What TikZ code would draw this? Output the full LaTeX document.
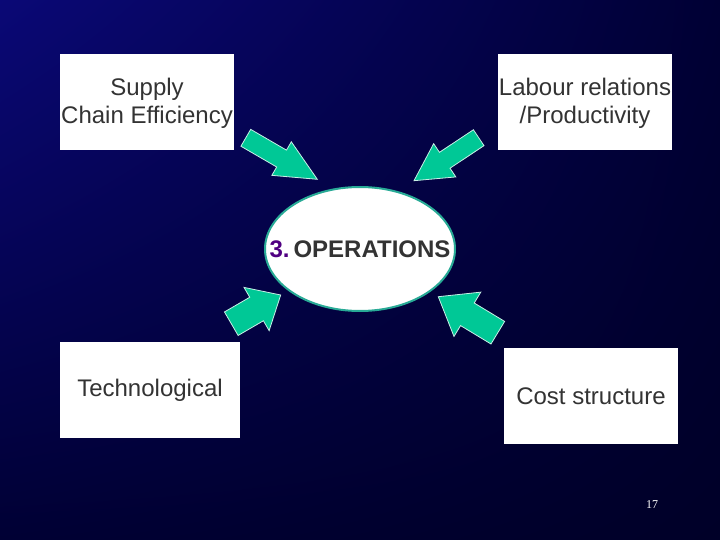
\documentclass[tikz,border=0pt]{standalone}
\usepackage{fontspec}
\setmainfont{Liberation Sans}
\newfontfamily\numfont{Liberation Serif}
\usetikzlibrary{calc,shadings,shapes.geometric}
\definecolor{bgtl}{RGB}{10,8,118}
\definecolor{bgtr}{RGB}{0,0,52}
\definecolor{bgbl}{RGB}{0,0,52}
\definecolor{bgbr}{RGB}{0,0,40}
\definecolor{arrowfill}{RGB}{0,200,150}
\definecolor{arrowline}{RGB}{200,240,230}
\definecolor{ellline}{RGB}{40,170,150}
\definecolor{boxtext}{RGB}{51,51,51}
\definecolor{numpurple}{RGB}{80,0,130}
\tikzset{
  infobox/.style={fill=white, draw=none, inner sep=0pt, align=center,
    text=boxtext, font=\fontsize{24}{28}\selectfont},
  centre/.style={ellipse, fill=white, draw=ellline, line width=2pt,
    inner sep=0pt},
  blockarrow/.style={fill=arrowfill, draw=arrowline, line width=0.8pt, line join=miter}
}
% #1 tail, #2 tip, #3 half shaft width, #4 half head width, #5 head length
\newcommand\fatarrow[5]{%
  \path[blockarrow]
    ($(#1)!#3!90:(#2)$) --
    ($($(#2)!#5!(#1)$)!#3!-90:(#1)$) --
    ($($(#2)!#5!(#1)$)!#4!-90:(#1)$) --
    (#2) --
    ($($(#2)!#5!(#1)$)!#4!90:(#1)$) --
    ($($(#2)!#5!(#1)$)!#3!90:(#1)$) --
    ($(#1)!#3!-90:(#2)$) -- cycle;}
\begin{document}
\begin{tikzpicture}[x=1pt,y=-1pt]
  \useasboundingbox (0,0) rectangle (720,540);
  \shade[upper left=bgtl, upper right=bgtr, lower left=bgbl, lower right=bgbr]
    (0,0) rectangle (720,540);

  \node[infobox, minimum width=174pt, minimum height=96pt] (supply) at (147,102)
    {\rule{0pt}{20pt}Supply\\Chain Efficiency};
  \node[infobox, minimum width=174pt, minimum height=96pt] (labour) at (585,102)
    {\rule{0pt}{20pt}Labour relations\\/Productivity};
  \node[infobox, minimum width=180pt, minimum height=96pt] (tech) at (150,390)
    {Technological};
  \node[infobox, minimum width=174pt, minimum height=96pt] (cost) at (591,396)
    {Cost structure};

  \node[centre, minimum width=190pt, minimum height=124pt] (ops) at (360,249) {};
  \node[font=\fontsize{24}{28}\bfseries\selectfont, inner sep=0pt] (opstext) at (360,249)
    {\textcolor{numpurple}{3.}\,\textcolor{boxtext}{OPERATIONS}};

  \coordinate (a1t) at (245.8,137.8); \coordinate (a1h) at (317.3,179.3);
  \coordinate (a2t) at (478.7,137.7); \coordinate (a2h) at (414,180.7);
  \coordinate (a3t) at (231.3,323.7); \coordinate (a3h) at (280.7,295);
  \coordinate (a4t) at (497.8,332.7); \coordinate (a4h) at (438.3,296.7);

  \fatarrow{a1t}{a1h}{9.75pt}{19.4pt}{41.3pt}
  \fatarrow{a2t}{a2h}{9.55pt}{20pt}{36.9pt}
  \fatarrow{a3t}{a3h}{13.6pt}{25pt}{27.9pt}
  \fatarrow{a4t}{a4h}{13.2pt}{25.9pt}{34pt}

  \node[text=white, font=\numfont\fontsize{12}{14}\selectfont, inner sep=0pt] (page) at (652,505) {17};
\end{tikzpicture}
\end{document}
